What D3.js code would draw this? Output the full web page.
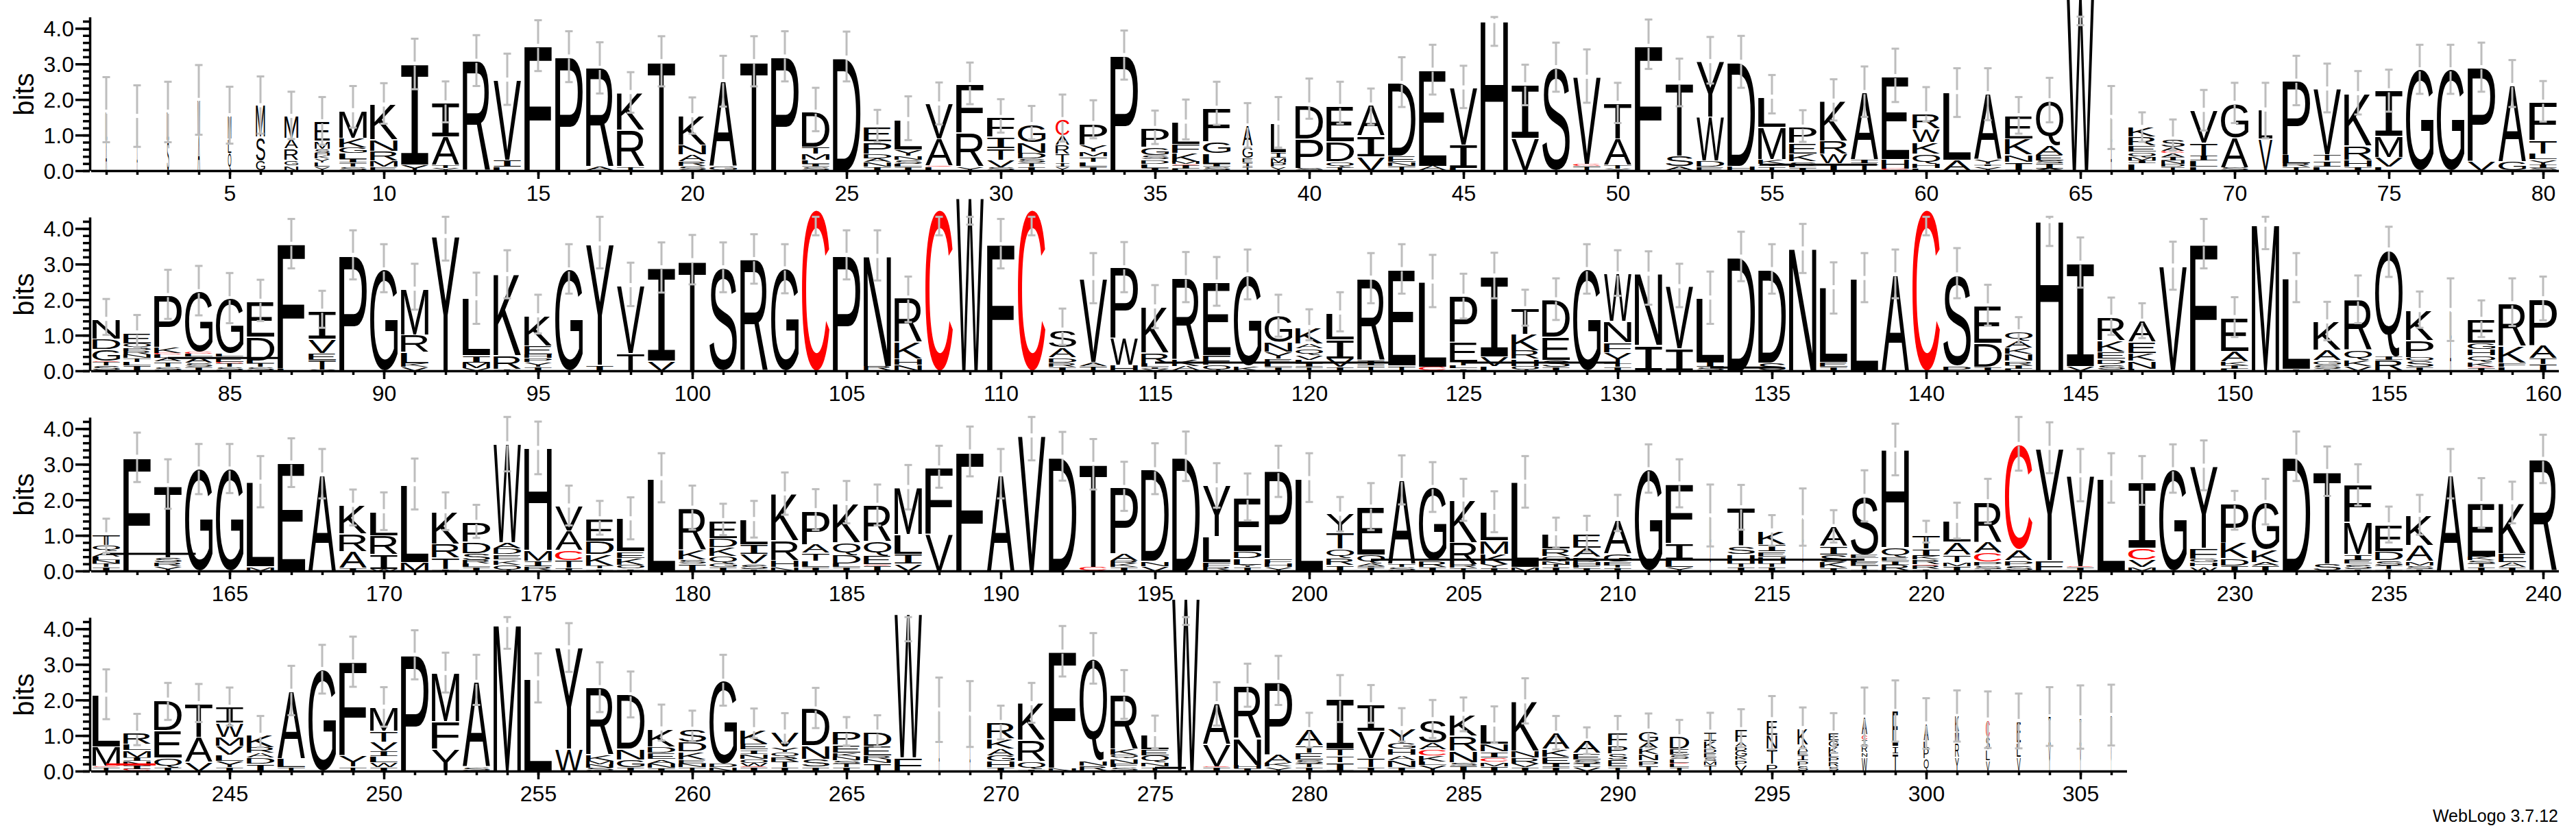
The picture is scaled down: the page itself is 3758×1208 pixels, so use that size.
<!DOCTYPE html>
<html><head><meta charset="utf-8">
<script src="https://cdn.jsdelivr.net/npm/d3@7"></script>
<style>html,body{margin:0;padding:0;background:#fff}svg{display:block}</style>
</head><body><svg id="logo" width="3758" height="1208"></svg>
<script>
// Letter stacks, bottom to top: letter + information in bits.
const row1Stacks=["A.85 L.8","A.75 L.78","S.85 L.8","A1 M.98","Q.5 L.4 M.65","G.27 S.68 M.88","N.15 G.15 R.33 A.28 M.62","Y.1 L.13 Y.1 K.08 H.08 S.12 M.22 E.55","S.1 T.12 I.1 L.16 G.16 K.27 M.78","E.1 M.17 R.27 N.33 K.98",
"Y.16 I2.84","Y.07 T.09 A.8 I.95","R3.08","L.1 I.2 V2.25","F3.5","P3.2","A.1 R2.78","T.12 R1.03 K1.05","T3.07","S.12 R.13 A.2 N.27 K.83",
"G.11 A2.4","T3.07","P3.2","S.1 I.08 L.12 M.17 T.2 D.98","D3.17","I.1 N.14 A.1 D.14 P.33 E.42","I.1 L.08 S.12 N.12 Y.17 L.85","L.1 C.03 A.77 V.98","Y.12 R.95 F1.35","S.08 V.22 T.33 I.32 F.55",
"I.1 T.12 S.12 D.16 N.3 G.5","Y.1 I.12 T.25 R.25 A.27 C.45","I.1 L.15 T.15 M.13 Y.2 P.6","P3.24","I.07 L.12 D.12 S.13 G.23 P.52","L.05 I.1 C.03 M.07 K.25 F.25 L.62","S.1 I.08 L.3 G.33 F.95","T.1 I.12 E.14 G.33 A.57","Y.1 P.13 M.13 I.16 L.82","S.07 P.83 D.95",
"T.1 Q.16 D.55 E1","V.4 I.58 A.87","T.13 N.12 E.16 D2.05","A.13 E2.7","L.07 I.66 V1.6","H4.2","V.92 I1.5","S2.9","T.13 C.05 V2.45","Y.05 T.1 A.75 T1",
"F3.5","A.12 S.3 T2.05","E.1 D.17 W1.25 Y1.55","H.13 D2.92","T.12 I.06 K.14 M.9 L.85","I.08 L.05 S.13 K.22 E.3 P.45","I.2 W.27 R.37 K1.12","T.2 I.1 A1.9","C.05 H.27 E2.33","L.06 H.13 Q.29 K.32 W.38 R.42",
"A.3 L1.9","Y.12 I.06 Y.14 A1.85","I.25 N.2 K.45 E.65","A.05 I.15 S.08 E.16 A.28 Q1.25","W4.86","A.8 L.7","L.2 I.07 M.1 Q.16 E.17 R.25 K.27","T.1 D.08 N.1 I.1 A.12 C.05 A.12 S.22","L.1 L.17 I.15 T.36 V.92","S.08 A.85 G.97",
"V.9 L.81","T.1 R.1 L.25 P2.07","L.1 I.17 T.18 V1.85","I.1 H.2 R.4 K1.47","L.1 V.27 M.6 I1.28","G2.84","G2.84","V.27 P2.63","G.25 A2.15","S.06 I.1 Y.15 L.17 T.38 F1.07"];
const row1ErrTop=[2.62,2.39,2.49,2.96,2.35,2.64,2.21,2.06,2.37,2.45,3.7,2.5,3.8,3.28,4.22,3.91,3.6,2.76,3.77,2.05,3.22,3.77,3.91,2.32,3.9,1.7,2.08,2.47,3.03,2,1.81,2.13,1.97,3.93,1.68,1.99,2.49,1.89,2.06,2.58,2.49,2.3,3.18,3.53,2.94,4.31,2.97,3.59,3.4,2.46,4.24,3.14,3.75,3.78,2.68,1.69,2.56,2.92,3.42,2.34,2.87,2.87,2.06,2.6,4.32,2.37,1.63,1.43,2.26,2.46,2.46,3.22,3,2.79,2.83,3.53,3.53,3.59,3.1,2.51];
const row1ErrBot=[.79,.66,.79,1,.75,1.03,.88,.72,1.2,1.31,2.28,1.35,2.37,1.84,2.79,2.48,2.16,1.62,2.36,1.03,1.79,2.36,2.5,1.1,2.5,.8,.85,1.29,1.86,1.06,.87,.81,.9,2.55,.74,.87,1.28,.64,.64,1.45,1.31,1.28,1.78,2.13,1.75,3.5,1.83,2.21,1.9,1.33,2.85,1.8,2.44,2.32,1.6,.8,1.4,1.5,1.92,1.38,1.5,1.41,1.03,1.35,4.08,.6,.8,.55,1.12,1.33,.9,1.83,1.63,1.57,1.65,2.15,2.15,2.21,1.78,1.37];

const row2Stacks=["S.15 T.1 C.03 G.32 D.3 N.55","I.15 L.1 T.1 N.1 R.1 P.08 Q.14 E.3","S.1 T.15 A.1 L.1 C.05 K.17 P1.45","I.1 S.12 A.18 L.08 C.05 G1.7","S.1 T.1 C.05 E.15 L.08 G1.55","S.1 T.1 L.08 D.68 E1","L.06 F3.5","S.02 T.28 E.2 V.4 I.78","P3.25","G2.84",
"V.1 K.1 L.32 R.5 M1.28","Y3.78","V.07 M.16 I.2 L1.6","I.05 R.38 K2.28","I.1 Y.15 P.1 H.1 E.25 K.85","G2.84","I.17 Y3.4","T.5 V1.9","V.27 I2.63","T3.1",
"S2.9","R3.13","G2.87","C4.53","P3.25","R.13 N3.09","N.17 H.17 K.47 R1.24","C4.53","W4.86","F3.55",
"C4.53","I.1 R.12 D.15 A.28 S.5","T.13 A.12 V2.35","H.17 W.76 P1.97","V.05 I.06 L.1 R.3 K1.29","A.13 K.2 R2.29","Q.17 F.27 E2.06","K.15 G2.55","I.1 L.1 E.13 Y.2 N.27 G.75",
"T.1 I.1 L.1 V.15 Q.17 A.15 K.45","I.1 V.24 I.54 L.75","T.15 I.16 R2.3","T.15 E2.7","C.1 L2.4","I.06 L.08 T.1 E.57 P1.29","L.13 V.27 I2.27","Q.13 H.2 R.24 K.46 T.72","I.1 S.2 E.65 D1.05","G2.85","I.1 T.1 Y.32 F.27 N.6 W1.34",
"I.72 N2","I.62 V1.75","S.1 I.15 L1.8","D3.2","S.22 D2.63","N3.43","I.1 E.14 L2.1","L2.6","A2.7","C4.53",
"P.15 S2.55","I.1 D.68 E1.05","L.05 I.1 R.12 N.2 K.18 A.2 Q.25","H4.2","V.13 I2.9","L.03 S.15 D.15 E.2 K.32 R.66","L.05 N.22 K.22 E.32 A.59","V2.95","F3.55","L.05 I.1 K.1 A.3 E.95",
"M4.1","I.05 L2.55","I.05 S.12 G.12 A.3 K.79","V.13 K.17 Q.27 R1.43","R.3 I.1 Q3.0","I.1 S.18 O.1 P.47 K.85","A.9 L.8","I.08 C.03 K.14 Q.18 H.17 G.18 E.67","L.1 F.12 K.47 R1.2","I.18 T.17 A.38 P1.3"];
const row2ErrTop=[2.01,1.56,2.83,2.94,2.74,2.55,4.26,2.24,3.94,3.55,3,4.32,2.75,3.38,2.13,3.55,4.32,3.03,3.6,3.81,3.6,3.83,3.55,4.32,3.94,3.94,2.64,4.32,4.32,4.26,4.32,1.74,3.3,3.61,2.4,3.33,3.19,3.4,2.13,1.72,2.2,3.3,3.55,3.25,2.72,3.31,2.27,2.59,3.55,3.38,3.35,3,2.78,3.9,3.55,4.12,3.04,3.3,3.4,4.32,3.44,2.41,1.5,4.32,3.74,2.05,1.89,3.62,4.26,2.06,4.32,3.3,1.93,2.67,4.04,2.22,2.59,1.97,2.59,2.64];
const row2ErrBot=[1,.65,1.45,1.55,1.33,1.39,2.87,1.2,2.56,2.2,1.71,3.09,1.31,2.03,1.04,2.16,2.87,1.81,2.19,2.42,2.2,2.44,2.17,3.8,2.56,2.53,1.36,3.8,4.1,2.87,3.8,.72,1.89,2.2,1.19,1.92,1.82,2,.95,.85,1.1,1.89,2.16,1.78,1.46,2.03,1.26,1.42,2.16,2.1,1.85,1.78,1.31,2.51,2.16,2.74,1.6,1.92,2.03,3.8,2.03,1.26,.75,3.5,2.33,1,.91,2.27,2.87,.94,3.41,1.92,.85,1.33,2.63,1.2,.83,.94,1.25,1.41];

const row3Stacks=["I.1 T.1 N.1 L.1 A.15 Q.17 T.3","F3.2","Y.13 R.1 S.15 T2.02","G2.87","G2.87","M.12 L2.38","E3.04","A2.7","I.08 A.47 R.5 K.8","W.05 I.42 R.52 L.68",
"M.25 L2.18","I.05 T.32 R.4 K.9","I.1 L.1 R.1 S.2 D.32 P.55","Q.17 K.15 E.15 D.16 A.17 W2.78","R.12 I.16 M.3 H2.87","I.08 T.22 C.28 A.55 V.7","I.06 T.09 K.32 D.37 E.63","I.06 O.1 K.2 E.18 L.93","L2.6","I.2 S.12 K.27 R1.18",
"I.1 G.1 Q.22 K.25 D.25 E.5","I.05 S.15 V.27 I.28 L.7","N.1 H.2 R.55 K1.32","I.1 L.17 T.23 A.25 P.95","I.1 L.1 D.25 Q.35 K1.1","I.15 C.03 E.25 Q.4 R1.02","V.2 I.28 L.55 M1.32","V1.05 F1.85","F3.35","A2.7",
"V3.8","D3.2","C.1 T2.9","I.1 K.1 R.08 A.22 P1.85","V.13 N.15 D2.57","D3.2","R.1 F.15 L.72 Y1.43","I.1 Y.07 L.18 D.2 E1.5","Y.1 H.1 F.15 P2.45","L2.6",
"I.17 R.2 Q.25 T.44 Y.54","I.1 I.03 A.08 Q.25 E1.34","S.1 T.08 A2.37","I.1 R.18 G2.07","T.08 R.1 R.62 K1.2","I.08 Y.1 K.3 M.37 L.8","M.1 L2.4","I.1 T.07 N.1 Q.14 R.22 L.42","I.08 F.07 H.1 D.15 A.25 E.4","I.08 T.07 F.1 G.24 A.96",
"G2.85","Y.1 L.22 I.46 F1.67","A.8 L.75","I.1 T.1 H.26 S.24 T1.08","I.1 T.1 H.2 E.15 I.2 K.38","A.8 L.7","I.08 K.16 S.22 I.24 A.55","I.05 T.1 E.1 L.1 E.1 S1.65","R.17 I.1 E.12 Q.27 H2.74","I.05 R.1 C.03 R.14 K.1 I.2 T.38",
"I.13 M.12 T.2 A.36 L.59","I.05 S.1 P.1 C.25 A.32 R1.13","S.15 P.15 A.3 C2.96","F.3 Y3.15","I.1 C.03 V2.55","L2.6","M.1 V.22 C.33 I1.85","G2.85","W.12 H.12 G.1 F.31 Y2.3","I.15 D.2 K.45 P1.1","I.15 A.1 K.35 G1.33",
"D3.2","S.2 T2.6","I.05 S.15 E.1 I.17 M.9 F1.03","I.05 T.1 S.15 D.25 E.75","I.05 S.1 M.12 A.46 K.84","A2.7","I.1 T.1 S.1 K.1 E1.5","I.1 A.15 E.25 K1.42","R3.14"];
const row3ErrTop=[1.46,3.88,3.13,3.56,3.56,3.22,3.72,3.42,2.28,2.2,3.15,2.2,1.85,4.32,4.19,2.39,1.96,2.06,3.3,2.39,1.88,1.96,2.76,2.29,2.52,2.42,2.97,3.51,4.05,3.42,4.32,3.9,3.7,3.06,3.58,3.91,3.02,2.73,3.51,3.3,2.07,2.46,3.24,3.05,2.58,2.23,3.22,1.49,1.54,2.13,3.55,3.13,2.42,2.41,1.56,2.31,1.7,2.82,4.13,1.4,1.91,2.58,4.32,4.17,3.42,3.3,3.22,3.55,3.66,2.24,2.58,3.91,3.49,2.99,1.8,2.13,3.42,2.6,2.5,3.82];
const row3ErrBot=[.5,2.49,1.74,2.15,2.18,1.78,2.35,2.03,1.27,1.14,1.72,1.14,.92,2.79,2.71,1.27,1.01,.88,1.92,1.15,1,.93,1.57,1.14,1.33,1.27,1.72,2.33,2.65,2.03,3.1,2.53,2.28,1.68,2.15,2.52,1.77,1.41,2.07,1.93,1.1,1.14,1.86,1.65,1.4,1.08,1.77,.63,.53,1.11,2.19,1.78,.68,1.15,.7,.7,.79,1.38,2.68,.79,.9,1.33,2.81,2.74,1.95,1.91,1.85,2.19,2.26,1.15,1.3,2.52,2.1,1.83,.79,1.01,2.03,1.2,1.33,2.46];

const row4Stacks=["T.1 C.04 M.55 L1.45","C.05 I.1 N.13 I.1 M.2 L.17 R.32","I.1 Q.28 E.77 D.85","V.25 A.7 T.95","I.1 Y.17 L.18 V.25 M.25 W.4 I.45","I.2 D.17 A.13 R.17 K.34","T.1 L.25 A1.9","G2.86","T.12 Y.33 F2.62","I.1 W.15 L.16 I.16 V.24 T.31 M.68",
"P3.26","Y.62 F.77 M1.36","S.1 A2.4","M4.1","L2.6","W.63 Y2.84","S.08 N.1 M.1 K.17 R1.9","I.1 G.22 N.3 D1.53","I.08 N.13 A.12 E.18 D.18 K.5","T.1 N.1 E.12 K.22 D.27 S.37",
"N.1 D.1 G2.33","I.1 C.03 W.1 O.1 N.15 I.12 E.17 K.4","I.1 T.16 R.14 Q.13 Y.15 V.42","I.12 S.22 N.38 D1.03","I.1 T.1 S.1 N.1 K.12 E.22 P.38","I.22 N.1 R.12 E.27 D.39","F.38 W4.04","A.9 L.82","A.8 L.8","I.1 H.17 G.16 A.2 K.28 R.46",
"I.05 Q.22 R.6 K1.03","N.08 F3.27","R.15 N.15 Q2.85","S.1 F.1 N.15 Q.1 K.17 R1.53","T.12 N.12 Q.2 E.17 L.42","W4.85","I.1 C.03 V.63 A1.14","I.07 H.1 N.75 R1.48","Y.12 K.1 A.25 P2.03","I.1 T.1 S.12 E.2 T.2 A.45",
"I.25 T.18 T.2 I1.4","I.1 T.25 V.77 I.75","I.1 N.2 A.15 H.17 G.16 Y.42","Y.16 L.1 K.17 C.17 A.2 S.65","I.15 S.1 N.32 R.43 K.6","I.13 M.12 C.12 I.17 N.22 L.54","I.1 V.1 R.17 N.2 K1.38","I.1 I.1 E.2 K.22 A.45","V.1 I.1 S.12 E.18 A.35","I.12 E.2 S.18 P.22 F.36",
"I.15 P.15 N.17 K.17 A.18 G.31","I.1 L.1 C.03 L.1 S.12 E.17 D.35","T.17 M.1 S.1 E.15 D.1 K.22 I.26","V.16 P.15 K.1 G.16 D.11 A.13 F.36","P.2 T.42 N.4 E.43","S.15 P.15 I.15 E.1 A.2 K.45","S.13 R.13 P.13 L.1 K.2 G.16 E.22","W.4 N.12 R.2 I.15 C.15 A.5","T.5 I.2 E.98","Q.35 P.3 L.2 A.48",
"Y.4 R.4 M.3 K.44","V.3 L.3 S.35 C.49","V.4 L.4 E.6","Y.7 I.83","Y.7 I.8","Y.7 I.87"];
const row4ErrTop=[2.85,1.6,2.47,2.44,2.34,1.54,2.95,3.54,3.77,2.35,3.95,3.32,3.26,4.32,3.3,4.15,3.05,2.79,1.86,1.69,3.26,1.75,1.62,2.33,1.51,1.56,4.32,2.62,2.52,1.83,2.47,4.07,3.87,2.83,1.55,4.32,2.49,3.01,3.23,1.63,2.69,2.41,1.76,1.99,2.06,1.81,2.6,1.54,1.22,1.54,1.61,1.43,1.63,1.73,2.1,1.78,1.62,2.34,2.54,2.04,2.26,2.23,2.17,2.35,2.4,2.42];
const row4ErrBot=[1.45,.72,1.43,1.37,1.27,.66,1.56,2.17,2.36,1.24,2.57,2.2,1.85,3.43,1.92,2.78,1.65,1.5,.85,.82,1.83,.92,.79,1.2,.71,.69,3.64,.81,.67,.88,1.35,2.65,2.45,1.46,.63,4.1,1.27,1.8,1.85,.66,1.37,1.35,.82,.92,1.11,.78,1.33,.6,.47,.63,.66,.47,.6,.66,.6,.63,.5,.7,.82,.62,.82,.64,.63,.7,.62,.71];

// Share of sequences occupying a column (letters are narrower where it is low).
const occupancyPositions=[1,2,3,4,5,6,7,8,32,38,39,66,68,71,157,213,216,268,269,290,291,292,293,294,295,296,297,298,299,300,301,302,303,304,305,306];
const occupancyValues=[.05,.03,.07,.08,.12,.33,.5,.55,.5,.37,.55,.04,.85,.5,.05,.04,.04,.03,.03,.7,.7,.7,.45,.42,.38,.38,.36,.2,.2,.18,.14,.14,.14,.07,.05,.03];

// Stray over-wide glyph strokes: from position, to position, height in bits.
const strayFrom=[54.6,83,115,125,133,161,202,241,275];
const strayTo=[58.4,86.6,123,130,135.3,163.9,218,242.6,276];
const strayBits=[.16,.35,.22,.22,.08,.47,.31,.18,.08];

const tickLabelEvery=5, yMajorTicks=[0,1,2,3,4], yMinorTicks=d3.range(0,4.3,.2);
const creditText="WebLogo 3.7.12", yTitle="bits";

const rowData=[
 {first:1,last:80,stacks:row1Stacks,top:row1ErrTop,bot:row1ErrBot,base:248.5},
 {first:81,last:160,stacks:row2Stacks,top:row2ErrTop,bot:row2ErrBot,base:540.5},
 {first:161,last:240,stacks:row3Stacks,top:row3ErrTop,bot:row3ErrBot,base:832.5},
 {first:241,last:306,stacks:row4Stacks,top:row4ErrTop,bot:row4ErrBot,base:1124.5}
];
const occ=new Map(occupancyPositions.map((p,i)=>[p,occupancyValues[i]]));
const COL=45, X0=155, FULL_W=40, PX_BIT=51.9, YMAX=4.32;
const SANS='"Liberation Sans",Arial,Helvetica,sans-serif', MONO='"Liberation Mono",monospace';
const RED='#ff0000', GREY='#bdbdbd';

const ctx=document.createElement('canvas').getContext('2d');
const FS=200;
const cache={};
function fontFor(ch){return ch==='I'?MONO:SANS;}
function metrics(ch){
  if(!cache[ch]){ctx.font=FS+'px '+fontFor(ch);const m=ctx.measureText(ch);
    cache[ch]={l:m.actualBoundingBoxLeft,r:m.actualBoundingBoxRight,a:m.actualBoundingBoxAscent,d:m.actualBoundingBoxDescent};}
  return cache[ch];
}
function parseStack(s){return s.split(' ').map(t=>({ch:t[0],bits:+t.slice(1)}));}

const svg=d3.select('#logo');
svg.append('rect').attr('width',3758).attr('height',1208).attr('fill','#fff');

rowData.forEach(row=>{
  const g=svg.append('g');
  const x=d3.scaleLinear().domain([row.first,row.last]).range([X0,X0+(row.last-row.first)*COL]);
  const y=d3.scaleLinear().domain([0,YMAX]).range([row.base,row.base-YMAX*PX_BIT]);
  const positions=d3.range(row.first,row.last+1);

  // letters
  const letters=g.append('g');
  positions.forEach((p,i)=>{
    const w=FULL_W*(occ.has(p)?occ.get(p):1);
    let acc=0;
    parseStack(row.stacks[i]).forEach(l=>{
      const m=metrics(l.ch);
      const yb=y(acc), yt=y(acc+l.bits);
      const h=yb-yt;
      const inset=Math.min(1.6,h*.14);
      const sx=w/(m.l+m.r), sy=(h-inset)/(m.a+m.d);
      letters.append('text').text(l.ch)
        .attr('font-family',fontFor(l.ch)).attr('font-size',FS)
        .attr('fill',l.ch==='C'?RED:'#000')
        .attr('x',m.l).attr('y',-m.d)
        .attr('transform',`translate(${x(p)-w/2},${yb}) scale(${sx},${sy})`);
      acc+=l.bits;
    });
    row.stackTop=row.stackTop||{}; row.stackTop[p]=acc;
  });

  // stray strokes
  const strays=g.append('g');
  strayFrom.forEach((f,i)=>{
    if(f>=row.first-1&&f<=row.last){
      strays.append('line').attr('x1',x(f)).attr('x2',x(strayTo[i]))
        .attr('y1',y(strayBits[i])).attr('y2',y(strayBits[i]))
        .attr('stroke',f===241?RED:'#000').attr('stroke-width',3);
    }
  });

  // error bars: two grey pieces with a small gap at the stack top
  const bars=g.append('g').attr('stroke',GREY).attr('stroke-width',3).attr('fill','none');
  positions.forEach((p,i)=>{
    const t=y(row.top[i]), b=y(row.bot[i]), c=y(row.stackTop[p]), cx=x(p);
    const up=Math.min(c-3,b), down=Math.max(c+3,t);
    if(t<up) bars.append('line').attr('x1',cx).attr('x2',cx).attr('y1',t).attr('y2',up);
    if(down<b) bars.append('line').attr('x1',cx).attr('x2',cx).attr('y1',down).attr('y2',b);
    [t,b].forEach(v=>bars.append('line').attr('x1',cx-5.5).attr('x2',cx+5.5).attr('y1',v).attr('y2',v));
  });

  // axes
  const xAxisScale=d3.scaleLinear().domain([row.first-.5,row.last+.5]).range([x(row.first)-COL/2,x(row.last)+COL/2]);
  const gx=g.append('g').attr('transform',`translate(0,${row.base+.5})`);
  gx.call(d3.axisBottom(xAxisScale).tickValues(positions).tickSize(6).tickSizeOuter(0).tickFormat(''));
  gx.select('.domain').attr('stroke-width',3.5).attr('stroke','#000');
  gx.selectAll('.tick line').attr('stroke','#000').attr('stroke-width',3.5);
  const labelled=positions.filter(p=>p%tickLabelEvery===0);
  const gxm=g.append('g').attr('transform',`translate(0,${row.base+.5})`);
  gxm.call(d3.axisBottom(xAxisScale).tickValues(labelled).tickSize(12).tickSizeOuter(0).tickFormat(d=>d));
  gxm.select('.domain').remove();
  gxm.selectAll('.tick line').attr('stroke','#000').attr('stroke-width',3.5);
  gxm.selectAll('.tick text').attr('font-family',SANS).attr('font-size',32).attr('fill','#000')
    .attr('y',44).attr('dy',0);

  const yAxisScale=y;
  const gym=g.append('g').attr('transform','translate(131,.5)');
  gym.call(d3.axisLeft(yAxisScale).tickValues(yMinorTicks).tickSize(10).tickSizeOuter(0).tickFormat(''));
  gym.select('.domain').attr('stroke-width',3.5).attr('stroke','#000');
  gym.selectAll('.tick line').attr('stroke','#000').attr('stroke-width',3.5);
  const gy=g.append('g').attr('transform','translate(131,.5)');
  gy.call(d3.axisLeft(yAxisScale).tickValues(yMajorTicks).tickSize(21).tickSizeOuter(0).tickFormat(d3.format('.1f')));
  gy.select('.domain').remove();
  gy.selectAll('.tick line').attr('stroke','#000').attr('stroke-width',3.5);
  gy.selectAll('.tick text').attr('font-family',SANS).attr('font-size',32).attr('fill','#000')
    .attr('x',-23).attr('text-anchor','end').attr('dy','.36em');

  g.append('text').text(yTitle).attr('font-family',SANS).attr('font-size',40).attr('fill','#000')
    .attr('text-anchor','middle')
    .attr('transform',`translate(49,${row.base-111}) rotate(-90)`);
});

svg.append('text').text(creditText).attr('x',3732).attr('y',1199)
  .attr('text-anchor','end').attr('font-family',SANS).attr('font-size',25).attr('fill','#000');
</script></body></html>
